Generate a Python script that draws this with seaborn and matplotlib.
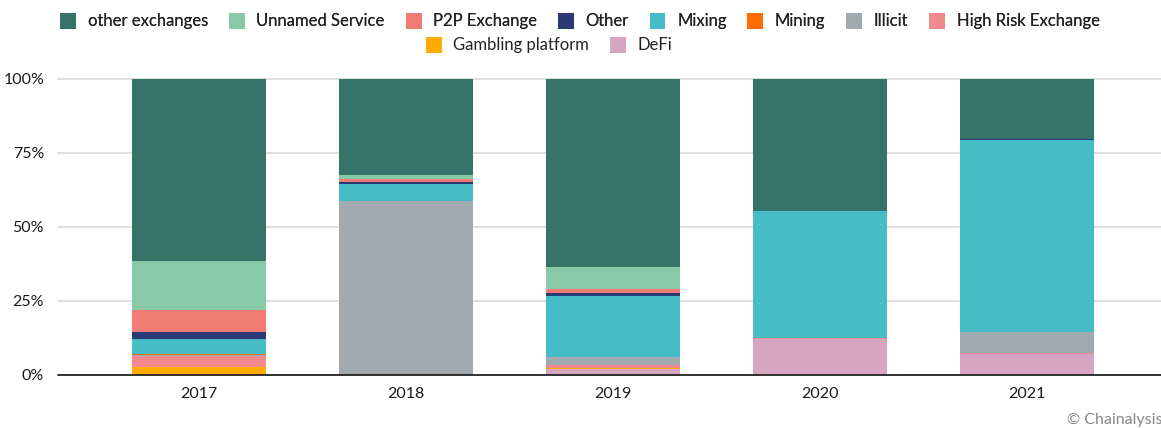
import numpy as np
import matplotlib
matplotlib.use("Agg")
import matplotlib.pyplot as plt
from matplotlib.patches import Patch
import seaborn as sns

# --- Data (share of volume, %) ---
years = ["2017", "2018", "2019", "2020", "2021"]
other_exchanges = [61.6, 32.3, 63.5, 44.6, 20.3]
unnamed_service = [16.3, 1.4, 7.5, 0.0, 0.0]
p2p_exchange = [7.5, 1.1, 1.4, 0.0, 0.0]
other = [2.6, 0.8, 0.9, 0.0, 0.3]
mixing = [4.8, 5.6, 20.7, 42.9, 65.0]
mining = [0.6, 0.0, 0.0, 0.0, 0.0]
illicit = [0.2, 58.8, 2.7, 0.0, 7.0]
high_risk_exchange = [3.8, 0.0, 0.8, 0.3, 0.3]
gambling_platform = [2.6, 0.0, 0.5, 0.0, 0.0]
defi = [0.0, 0.0, 2.0, 12.2, 7.1]

series_names = ["other exchanges", "Unnamed Service", "P2P Exchange", "Other", "Mixing",
                "Mining", "Illicit", "High Risk Exchange", "Gambling platform", "DeFi"]
series_values = [other_exchanges, unnamed_service, p2p_exchange, other, mixing,
                 mining, illicit, high_risk_exchange, gambling_platform, defi]
colors = ["#367369", "#88C9A8", "#EF7B72", "#2B3A75", "#46BDC6",
          "#FF6D00", "#A1A9B1", "#F08A8F", "#FFAB00", "#D6A5C1"]

# --- Setup ---
sns.set_style("white")
plt.rcParams["font.family"] = ["Lato", "DejaVu Sans"]

fig = plt.figure(figsize=(11.61, 4.28), dpi=100)
ax = fig.add_axes([58 / 1161, 53 / 428, 1110 / 1161, 296 / 428])

# stacked bars: draw cumulative totals from the top series down, so smaller ones sit on top
vals = np.array(series_values)
cum = np.cumsum(vals[::-1], axis=0)[::-1]
for name, c, col in zip(series_names, cum, colors):
    sns.barplot(x=years, y=c, color=col, saturation=1, width=0.65, ax=ax,
                linewidth=0, zorder=2)

ax.set_xlim(-0.68, 4.68)
ax.set_ylim(0, 100)
ax.set_yticks([0, 25, 50, 75, 100])
ax.set_yticklabels(["0%", "25%", "50%", "75%", "100%"])
for y in [25, 50, 75, 100]:
    ax.axhline(y, color="#d6d6d6", lw=1.1, zorder=1, clip_on=False)
ax.axhline(0, color="#222222", lw=1.3, zorder=3, clip_on=False)
for s in ax.spines.values():
    s.set_visible(False)
ax.tick_params(axis="both", length=0, labelsize=11.5, colors="#1a1a1a")
ax.tick_params(axis="y", pad=10)
ax.tick_params(axis="x", pad=9)
ax.set_xlabel("")
ax.set_ylabel("")

# --- Legend (two centred rows) ---
handles = [Patch(facecolor=col, edgecolor="none") for col in colors]
leg_kw = dict(frameon=False, fontsize=12, handlelength=0.95, handleheight=1.1,
              handletextpad=0.7, columnspacing=1.25, borderpad=0, loc="center")
leg1 = fig.legend(handles[:8], series_names[:8], ncol=8,
                  bbox_to_anchor=(580 / 1161, 1 - 21 / 428), **leg_kw)
fig.legend(handles[8:], series_names[8:], ncol=2,
           bbox_to_anchor=(549 / 1161, 1 - 45 / 428), **leg_kw)
fig.add_artist(leg1)
for leg in fig.legends:
    for t in leg.get_texts():
        t.set_color("#222222")

fig.text(1067 / 1161, 1 - 420 / 428, "© Chainalysis", fontsize=11.5, color="#888888",
         ha="left", va="center")

fig.savefig("out.png", dpi=100)
